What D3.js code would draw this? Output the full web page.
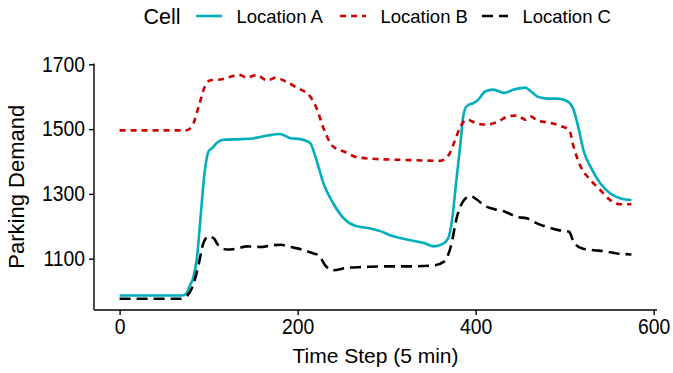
<!DOCTYPE html>
<html>
<head>
<meta charset="utf-8">
<script src="https://cdn.jsdelivr.net/npm/d3@7"></script>
<style>
  html, body { margin: 0; padding: 0; background: #fff; }
  svg { display: block; font-family: "Liberation Sans", Arial, sans-serif; }
</style>
</head>
<body>
<div id="chart"></div>
<script>
// series (time step, parking demand)
const timeA = [0, 70, 75, 79, 83, 87, 91, 95, 100, 104, 109, 117, 136, 151, 166, 180, 192, 203, 214, 220, 229, 240, 252, 263, 282, 293, 304, 327, 342, 353, 362, 369, 374, 378, 383, 386, 390, 398, 403, 411, 420, 432, 443, 456, 462, 469, 480, 492, 503, 510, 516, 521, 529, 540, 551, 563, 575];
const demandA = [986, 986, 992, 1017, 1043, 1105, 1229, 1353, 1431, 1441, 1457, 1467, 1469, 1472, 1480, 1485, 1472, 1469, 1457, 1415, 1333, 1271, 1224, 1203, 1193, 1185, 1172, 1157, 1148, 1138, 1144, 1162, 1229, 1333, 1457, 1539, 1571, 1581, 1591, 1617, 1622, 1612, 1622, 1628, 1617, 1601, 1594, 1594, 1586, 1560, 1498, 1436, 1384, 1333, 1302, 1286, 1281];

const timeB = [0, 74, 81, 89, 96, 102, 113, 124, 134, 143, 154, 166, 175, 186, 199, 214, 222, 229, 240, 252, 267, 293, 319, 360, 370, 377, 383, 390, 402, 413, 426, 435, 447, 456, 462, 469, 484, 497, 505, 510, 518, 529, 540, 551, 563, 575];
const demandB = [1496, 1496, 1507, 1571, 1633, 1651, 1653, 1661, 1668, 1659, 1667, 1650, 1659, 1648, 1628, 1601, 1560, 1503, 1446, 1431, 1413, 1407, 1405, 1402, 1421, 1467, 1508, 1529, 1517, 1514, 1524, 1538, 1542, 1529, 1539, 1527, 1519, 1508, 1498, 1446, 1384, 1343, 1312, 1281, 1268, 1268];

const timeC = [0, 68, 76, 83, 89, 94, 100, 106, 111, 121, 132, 143, 158, 171, 181, 192, 205, 218, 224, 231, 240, 256, 274, 293, 319, 353, 364, 372, 379, 387, 394, 402, 411, 422, 433, 446, 458, 469, 480, 493, 505, 510, 520, 533, 544, 559, 575];
const demandC = [976, 976, 986, 1022, 1084, 1147, 1169, 1162, 1141, 1128, 1131, 1138, 1136, 1141, 1143, 1136, 1128, 1116, 1110, 1079, 1064, 1072, 1074, 1076, 1076, 1079, 1090, 1136, 1229, 1281, 1293, 1281, 1262, 1252, 1245, 1229, 1224, 1209, 1198, 1188, 1183, 1152, 1131, 1126, 1123, 1116, 1113];

const cells = ["Location A", "Location B", "Location C"];
const xTicks = [0, 200, 400, 600];
const yTicks = [1100, 1300, 1500, 1700];

const series = [
  { name: cells[0], t: timeA, v: demandA, color: "#00AFBB", dash: null },
  { name: cells[1], t: timeB, v: demandB, color: "#CC0000", dash: "6,5" },
  { name: cells[2], t: timeC, v: demandC, color: "#000000", dash: "11,6" }
];

const width = 673, height = 373;
const panel = { left: 94, right: 657, top: 63.5, bottom: 310 };

// ggplot-style 5% expansion of the data range
const expand = (lo, hi) => { const p = (hi - lo) * 0.05; return [lo - p, hi + p]; };
const allT = [...timeA, ...timeB, ...timeC];
const allV = [...demandA, ...demandB, ...demandC];

const x = d3.scaleLinear()
  .domain(expand(d3.min(allT), d3.max(allT)))
  .range([panel.left, panel.right]);
const y = d3.scaleLinear()
  .domain(expand(d3.min(allV), d3.max(allV)))
  .range([panel.bottom, panel.top]);

const svg = d3.select("#chart").append("svg")
  .attr("width", width)
  .attr("height", height);

// lines
const line = d3.line()
  .x(d => x(d[0]))
  .y(d => y(d[1]))
  .curve(d3.curveMonotoneX);

svg.selectAll(".series")
  .data(series)
  .join("path")
    .attr("class", "series")
    .attr("d", s => line(s.t.map((t, i) => [t, s.v[i]])))
    .attr("fill", "none")
    .attr("stroke", s => s.color)
    .attr("stroke-width", 2.6)
    .attr("stroke-dasharray", s => s.dash);

// axes
const fmt = d3.format("d");
const xAxis = svg.append("g")
  .attr("transform", `translate(0,${panel.bottom})`)
  .call(d3.axisBottom(x).tickValues(xTicks).tickFormat(fmt).tickSize(5).tickPadding(4).tickSizeOuter(0));
const yAxis = svg.append("g")
  .attr("transform", `translate(${panel.left},0)`)
  .call(d3.axisLeft(y).tickValues(yTicks).tickFormat(fmt).tickSize(5).tickPadding(4).tickSizeOuter(0));

xAxis.select(".domain").attr("d", `M${panel.left},0H${panel.right}`);
yAxis.select(".domain").attr("d", `M0,${panel.top}V${panel.bottom}`);

[xAxis, yAxis].forEach(a => {
  a.select(".domain").attr("stroke", "#000").attr("stroke-width", 1.4);
  a.selectAll(".tick line").attr("stroke", "#000").attr("stroke-width", 1.4);
  a.selectAll(".tick text")
    .attr("fill", "#000")
    .style("font-family", "'Liberation Sans', Arial, sans-serif")
    .style("font-size", "21.5px");
});
// the reference glyphs are a bit narrower than Liberation Sans
xAxis.selectAll(".tick text").attr("transform", "scale(0.9,1)").attr("dy", "0.72em");
yAxis.selectAll(".tick text").attr("x", -9 / 0.9).attr("transform", "scale(0.9,1)");

// axis titles
svg.append("text")
  .attr("x", (panel.left + panel.right) / 2)
  .attr("y", 363)
  .attr("text-anchor", "middle")
  .style("font-size", "21px")
  .text("Time Step (5 min)");

svg.append("text")
  .attr("transform", `translate(24,${(panel.top + panel.bottom) / 2}) rotate(-90)`)
  .attr("text-anchor", "middle")
  .style("font-size", "22px")
  .text("Parking Demand");

// legend
const legend = svg.append("g").attr("class", "legend");
legend.append("text")
  .attr("x", 143.5)
  .attr("y", 24)
  .style("font-size", "21.5px")
  .text("Cell");

const keyX = [196, 340, 482];
const items = legend.selectAll(".item")
  .data(series)
  .join("g")
    .attr("class", "item")
    .attr("transform", (d, i) => `translate(${keyX[i]},16)`);

items.append("line")
  .attr("x1", 0).attr("x2", 26)
  .attr("stroke", d => d.color)
  .attr("stroke-width", 2.6)
  .attr("stroke-dasharray", d => d.dash);

items.append("text")
  .attr("x", 40.5)
  .attr("y", 7)
  .style("font-size", "18.5px")
  .text(d => d.name);
</script>
</body>
</html>
